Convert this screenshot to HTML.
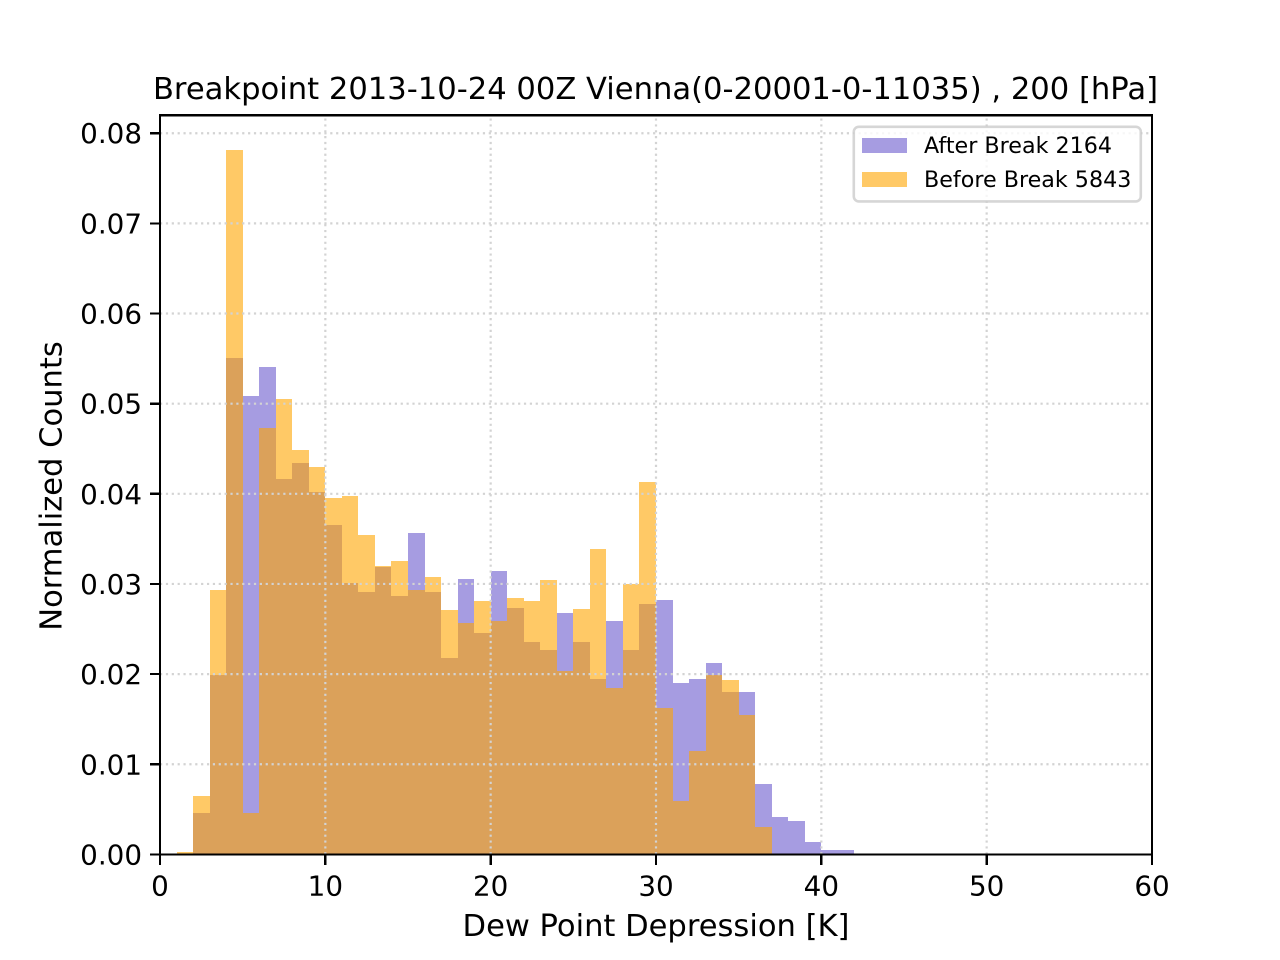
<!DOCTYPE html>
<html>
<head>
<meta charset="utf-8">
<title>Breakpoint histogram</title>
<style>
html,body{margin:0;padding:0;background:#fff;}
svg{display:block;}
text{font-family:"DejaVu Sans",sans-serif;fill:#000;}
</style>
</head>
<body>
<svg id="chart" xmlns="http://www.w3.org/2000/svg" width="1280" height="960" viewBox="0 0 1280 960">
  <rect x="0" y="0" width="1280" height="960" fill="#ffffff"/>
  <g id="bars-after" fill="#6a5acd" fill-opacity="0.6" shape-rendering="crispEdges"></g>
  <g id="bars-before" fill="#ffa500" fill-opacity="0.6" shape-rendering="crispEdges"></g>
  <g id="grid" stroke="#d3d3d3" stroke-width="2.2" stroke-dasharray="2.2 3.67" fill="none"></g>
  <g id="ticks" stroke="#000" stroke-width="2.2" shape-rendering="crispEdges"></g>
  <g id="tick-labels" font-size="27.78"></g>
  <rect x="160" y="115.2" width="992" height="739.2" fill="none" stroke="#000" stroke-width="2.2" shape-rendering="crispEdges"/>
  <text x="655.5" y="99" font-size="30.6" text-anchor="middle" xml:space="preserve">Breakpoint 2013-10-24 00Z Vienna(0-20001-0-11035) , 200 [hPa]</text>
  <text x="656" y="936" font-size="30.56" text-anchor="middle">Dew Point Depression [K]</text>
  <text transform="translate(61.5,486) rotate(-90)" font-size="30.56" text-anchor="middle">Normalized Counts</text>
  <g>
    <rect x="853.8" y="126.8" width="287" height="74.6" rx="5" ry="5" fill="#ffffff" fill-opacity="0.8" stroke="#cccccc" stroke-opacity="0.8" stroke-width="2.6"/>
    <rect x="862" y="138" width="45" height="15" fill="#6a5acd" fill-opacity="0.6" shape-rendering="crispEdges"/>
    <text x="924" y="153" font-size="22.22">After Break 2164</text>
    <rect x="862" y="172" width="45" height="15" fill="#ffa500" fill-opacity="0.6" shape-rendering="crispEdges"/>
    <text x="924" y="187" font-size="22.22">Before Break 5843</text>
  </g>
</svg>
<script>
const binEdgesStart = [0,1,2,3,4,5,6,7,8,9,10,11,12,13,14,15,16,17,18,19,20,21,22,23,24,25,26,27,28,29,30,31,32,33,34,35,36,37,38,39,40,41];
const afterBreak = [0,0,0.0046,0.0199,0.0551,0.0508,0.0541,0.0416,0.0434,0.0402,0.0365,0.0301,0.0291,0.0319,0.0287,0.0356,0.0291,0.0218,0.0306,0.0246,0.0314,0.0273,0.0236,0.0227,0.0268,0.0236,0.0195,0.0259,0.0227,0.0278,0.0282,0.0190,0.0195,0.0212,0.0180,0.0180,0.0078,0.0041,0.0037,0.0014,0.0005,0.0005];
const beforeBreak = [0,0.0003,0.0065,0.0293,0.0781,0.0046,0.0473,0.0505,0.0449,0.0430,0.0395,0.0398,0.0354,0.0320,0.0325,0.0293,0.0308,0.0271,0.0257,0.0281,0.0259,0.0284,0.0281,0.0304,0.0203,0.0272,0.0339,0.0185,0.0300,0.0413,0.0162,0.0059,0.0115,0.0199,0.0193,0.0155,0.0030,0,0,0,0,0];
const binWidth = 1;
const xTicks = [0,10,20,30,40,50,60];
const yTicks = [0.00,0.01,0.02,0.03,0.04,0.05,0.06,0.07,0.08];
const xDomain = [0,60];
const yDomain = [0,0.082];

const SVG_NS = 'http://www.w3.org/2000/svg';
const plotLeft = 160, plotRight = 1152, plotTop = 115.2, plotBottom = 854.4;
function xScale(v){ return plotLeft + (v - xDomain[0]) / (xDomain[1] - xDomain[0]) * (plotRight - plotLeft); }
function yScale(v){ return plotBottom - (v - yDomain[0]) / (yDomain[1] - yDomain[0]) * (plotBottom - plotTop); }
function make(tag, attrs){
  const el = document.createElementNS(SVG_NS, tag);
  for (const k in attrs) el.setAttribute(k, attrs[k]);
  return el;
}
function drawBars(groupId, values, barName){
  const g = document.getElementById(groupId);
  values.forEach(function(v, i){
    if (v <= 0) return;
    const x0 = Math.round(xScale(binEdgesStart[i]));
    const x1 = Math.round(xScale(binEdgesStart[i] + binWidth));
    const yTop = Math.round(yScale(v));
    const el = make('rect', {x: x0, y: yTop, width: x1 - x0, height: plotBottom - yTop});
    
    
    g.appendChild(el);
  });
}
drawBars('bars-after', afterBreak, 'after-break-bar');
drawBars('bars-before', beforeBreak, 'before-break-bar');

const gridG = document.getElementById('grid');
const ticksG = document.getElementById('ticks');
const labelsG = document.getElementById('tick-labels');
xTicks.forEach(function(t){
  const x = xScale(t);
  if (t > xDomain[0] && t < xDomain[1]) {
    const gl = make('line', {x1: x, x2: x, y1: plotBottom, y2: plotTop});
    
    
    gridG.appendChild(gl);
  }
  const tk = make('line', {x1: x, x2: x, y1: plotBottom, y2: plotBottom + 10.8});
  
  
  ticksG.appendChild(tk);
  const lb = make('text', {x: x, y: 895.5, 'text-anchor': 'middle'});
  
  
  lb.textContent = String(t);
  labelsG.appendChild(lb);
});
yTicks.forEach(function(t){
  const y = yScale(t);
  if (t > yDomain[0]) {
    const gl = make('line', {x1: plotLeft, x2: plotRight, y1: y, y2: y});
    
    
    gridG.appendChild(gl);
  }
  const tk = make('line', {x1: plotLeft - 10, x2: plotLeft, y1: y, y2: y});
  
  
  ticksG.appendChild(tk);
  const lb = make('text', {x: 142, y: y + 10, 'text-anchor': 'end'});
  
  
  lb.textContent = t.toFixed(2);
  labelsG.appendChild(lb);
});
</script>
</body>
</html>
